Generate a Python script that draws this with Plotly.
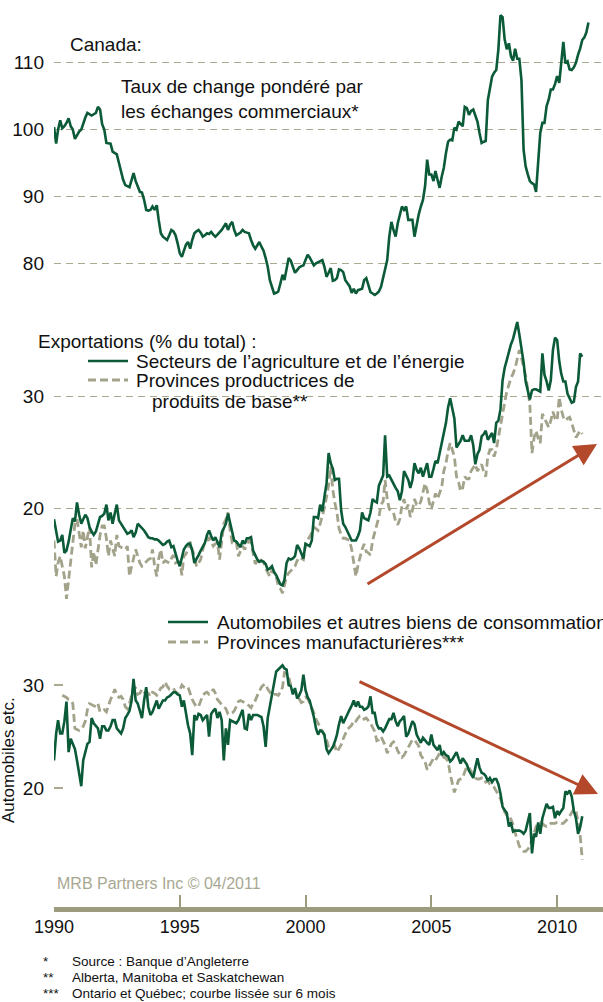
import plotly.graph_objects as go
import pandas as pd

W, H = 603, 1002
GREEN = "#0b5a38"
OLIVE = "#a3a38b"
GRID = "#aaa98f"
AXIS = "#9c9b7e"
RUST = "#b4482a"
TEXT = "#111111"
FONT = "Arial, 'Liberation Sans', sans-serif"

# ---- data (monthly, from Jan 1990) ----
taux_change = [
    100.4, 97.9, 100.0, 101.4, 100.2, 100.5, 101.0, 101.7, 100.5, 100.0, 98.6, 99.2,
    99.7, 100.0, 101.0, 101.8, 102.5, 102.3, 102.1, 102.3, 102.5, 103.4, 103.0, 100.8,
    100.0, 98.0, 98.0, 97.9, 96.7, 96.5, 96.3, 95.0, 93.5, 92.5, 91.7, 91.5,
    91.4, 92.5, 93.5, 92.3, 91.4, 90.7, 90.6, 89.5, 88.0, 87.9, 88.0, 88.5,
    88.0, 88.7, 86.5, 84.5, 84.0, 83.7, 83.5, 84.2, 85.0, 84.8, 84.2, 83.0,
    81.5, 81.0, 81.8, 82.8, 83.2, 82.2, 83.5, 84.5, 84.8, 85.0, 84.6, 84.0,
    84.2, 84.5, 84.4, 84.7, 84.3, 84.0, 84.3, 84.6, 85.0, 85.5, 86.0, 85.0,
    85.8, 86.2, 85.0, 84.2, 84.4, 84.6, 85.0, 84.7, 84.6, 84.5, 83.5, 82.7,
    82.2, 82.7, 83.2, 82.5, 81.9, 80.8, 79.5, 77.5, 76.5, 75.5, 75.6, 75.8,
    77.0, 78.3, 77.5, 79.5, 80.8, 80.4, 79.5, 78.6, 79.0, 79.4, 79.6, 79.7,
    80.5, 81.3, 80.9, 80.2, 79.7, 80.0, 80.2, 80.4, 80.5, 79.5, 78.0, 78.6,
    79.3, 77.4, 77.5, 77.8, 79.1, 79.0, 78.7, 77.5, 77.0, 76.6, 75.6, 76.2,
    75.5, 76.0, 76.1, 76.2, 77.5, 77.8, 76.8, 75.7, 75.5, 75.3, 75.5, 75.8,
    76.5, 78.0, 79.5, 80.5, 84.0, 86.2, 85.0, 84.0, 86.0, 87.5, 88.5, 88.0,
    88.5, 86.5, 86.5, 86.5, 84.0, 86.0, 87.3, 88.5, 89.5, 91.5, 95.5, 93.3,
    93.3, 92.3, 93.8, 92.5, 91.3, 93.0, 94.3, 96.5, 98.2, 98.5, 98.4, 100.3,
    100.0, 101.2, 100.8, 100.5, 103.4, 103.2, 102.2, 102.8, 103.0, 102.2, 101.2, 99.5,
    98.0, 98.2, 98.3, 104.4, 106.5, 107.9, 108.5, 108.9, 112.0, 117.1, 116.8, 113.5,
    112.0, 112.9, 111.0, 110.3, 112.1, 110.6, 110.6, 107.4, 97.0, 94.5, 93.3, 92.3,
    92.0, 91.8, 90.7, 95.5, 99.5, 101.0, 101.0, 103.5, 104.5, 106.0, 106.0, 106.8,
    108.0, 107.0, 110.0, 113.1, 109.9, 110.2, 109.0, 108.9, 109.3, 110.0, 111.2, 112.1,
    113.4, 113.8, 114.5, 116.0,
]

agri_energie = [
    19.0, 18.0, 17.0, 17.1, 17.6, 16.0, 16.2, 17.0, 18.3, 19.1, 18.8, 20.5,
    19.4, 18.6, 19.0, 19.4, 19.1, 18.3, 17.9, 17.6, 17.9, 18.5, 19.2, 19.3,
    19.5, 20.3, 18.9, 19.6, 18.6, 19.5, 20.3, 18.9, 18.6, 18.2, 17.9, 17.7,
    17.8, 18.0, 17.4, 17.8, 18.6, 18.4, 18.2, 18.0, 17.7, 17.4, 17.3, 17.3,
    17.2, 17.2, 17.1, 16.9, 16.7, 16.8, 17.0, 17.1, 16.5, 16.6, 15.8, 15.3,
    14.8, 15.5, 16.3, 16.6, 16.8, 16.8, 16.2, 15.1, 15.4, 15.8, 16.2, 16.5,
    16.9, 17.6, 18.0, 17.5, 17.1, 17.4, 16.9, 16.5, 17.8, 18.2, 18.6, 19.5,
    18.6, 17.6, 17.1, 17.0, 16.8, 16.5, 17.1, 16.8, 17.3, 17.3, 17.4, 16.2,
    15.8, 15.4, 15.2, 15.3, 15.2, 15.0, 14.5, 14.6, 14.8, 14.3, 14.0, 13.6,
    13.2, 13.1, 13.6, 15.1, 15.5, 15.4, 15.5, 15.7, 16.7, 16.4, 16.0, 15.5,
    16.8, 16.7, 16.6, 17.1, 19.2, 19.2, 19.1, 20.3, 19.7, 21.0, 22.2, 24.9,
    24.0, 23.5, 22.5, 22.6, 22.6, 19.8, 18.6, 18.3, 17.9, 17.5, 17.1, 17.1,
    17.1, 17.5, 18.0, 19.6, 19.1, 19.0, 18.9, 19.6, 20.8, 20.6, 20.5, 22.0,
    22.5, 22.9, 26.5, 22.8, 22.9, 22.5, 22.2, 21.8, 21.5, 20.7, 21.5, 23.3,
    22.9, 22.5, 21.8, 22.5, 24.0, 23.4, 23.1, 23.6, 22.8, 23.4, 24.0, 22.8,
    22.8, 23.5, 24.2, 24.0, 24.8, 25.8, 26.7, 27.6, 29.0, 29.8, 28.8, 28.0,
    25.4, 25.7, 26.0, 26.5, 26.0, 26.0, 26.0, 26.5, 25.6, 23.9, 24.8, 25.2,
    26.4, 26.6, 26.9, 26.1, 26.4, 26.7, 25.8, 27.6, 27.8, 28.8, 31.4, 32.5,
    33.2, 34.0, 34.6, 35.1, 35.8, 36.6, 35.5, 34.4, 33.0, 31.3, 30.5, 29.7,
    30.5, 30.6, 30.6, 30.5, 30.4, 33.8, 31.9, 31.3, 30.5, 31.4, 34.1, 35.2,
    35.0, 33.1, 32.0, 31.3, 31.3, 30.2, 29.8, 29.4, 29.5, 30.8, 31.3, 33.8,
    33.5,
]

prov_base = [
    17.1, 13.9, 15.1, 15.7, 14.8, 13.9, 11.9, 13.5, 15.6, 17.2, 18.6, 19.0,
    17.5, 16.5, 18.0, 16.4, 17.4, 18.3, 14.7, 16.1, 14.9, 16.5, 17.6, 18.4,
    18.4, 17.3, 15.7, 17.1, 16.4, 15.7, 17.6, 16.6, 16.5, 16.4, 16.3, 16.6,
    13.9, 14.8, 15.4, 16.3, 15.7, 15.1, 14.8, 15.0, 15.2, 15.4, 15.5, 16.3,
    14.8, 13.9, 15.5, 16.3, 15.1, 15.3, 15.2, 15.1, 15.5, 15.8, 15.1, 15.2,
    15.2, 14.0, 15.7, 15.9, 16.3, 17.0, 16.3, 15.7, 14.8, 15.1, 15.4, 16.3,
    16.9, 17.0, 17.4, 17.0, 16.6, 16.8, 16.9, 15.4, 16.8, 18.6, 19.0, 19.6,
    18.0, 16.9, 16.9, 17.0, 15.7, 16.2, 16.6, 16.3, 16.8, 17.1, 16.9, 16.0,
    15.0, 15.3, 15.5, 15.3, 15.2, 14.6, 14.2, 13.9, 14.5, 14.2, 13.9, 13.0,
    12.8, 12.4, 13.2, 13.9, 14.2, 14.4, 14.6, 14.8, 15.3, 15.6, 15.5, 15.4,
    16.8, 17.1, 17.5, 17.8, 18.3, 18.1, 18.0, 18.6, 19.3, 20.0, 21.0, 22.0,
    23.7, 21.6, 20.5, 19.6, 18.2, 17.6, 17.3, 17.3, 17.2, 17.1, 16.3, 15.0,
    13.9, 14.9, 15.7, 16.3, 16.8, 16.1, 16.0, 15.8, 17.1, 17.8, 18.6, 19.2,
    20.3, 20.6, 22.5, 20.8, 19.9, 19.7, 19.6, 18.8, 18.5, 19.0, 20.2, 20.8,
    19.9, 20.3, 19.2, 19.8, 20.8, 20.3, 20.2, 20.6, 21.5, 22.2, 21.6, 20.5,
    19.9, 20.8, 21.3, 20.8, 21.4, 21.9, 23.3, 24.0, 25.1, 25.8, 25.2, 24.6,
    22.8, 22.3, 21.5, 21.8, 22.8, 22.6, 22.6, 23.3, 23.6, 23.9, 23.3, 23.6,
    23.9, 23.2, 22.8, 24.6, 25.2, 25.2, 24.6, 25.2, 26.4, 27.6, 28.4, 29.4,
    30.4, 31.0, 31.6, 32.0, 32.5, 33.3, 34.1, 33.4, 32.7, 31.8, 30.6, 29.2,
    24.9, 26.3, 26.9, 26.2, 25.8, 28.4, 28.0, 27.6, 27.2, 27.8, 28.6, 28.0,
    27.8, 29.9, 28.8, 28.1, 27.8, 28.0, 28.1, 27.6, 27.0, 26.3, 26.6, 26.9,
    26.6,
]

auto_conso = [
    22.7, 25.3, 26.6, 25.3, 25.3, 26.5, 28.4, 23.5, 24.8, 24.3, 23.8, 22.7,
    21.5, 20.2, 22.7, 23.4, 24.3, 24.5, 26.8, 26.3, 26.0, 25.8, 24.8, 26.0,
    26.0, 25.6, 25.6, 26.0, 26.6, 26.6, 25.8, 25.5, 25.3, 25.8, 26.8, 27.1,
    27.5, 28.5, 30.6, 28.5, 28.2, 27.5, 26.8, 28.5, 29.8, 27.9, 27.1, 27.4,
    28.0, 28.5, 27.7, 28.2, 28.5, 28.5, 28.8, 28.9, 29.1, 29.3, 29.3, 29.1,
    29.0, 27.9, 28.5, 27.2, 26.1, 25.3, 23.2, 27.1, 26.6, 27.2, 27.1, 26.6,
    26.9, 27.1, 25.0, 27.2, 27.5, 27.7, 26.8, 27.4, 26.6, 22.7, 25.8, 24.2,
    26.6, 26.5, 26.4, 26.3, 26.6, 27.1, 27.6, 25.8, 25.7, 27.2, 26.6, 27.1,
    27.1, 27.1, 27.0, 26.9, 26.0, 24.0, 26.8, 28.0, 28.9, 30.2, 31.3, 31.5,
    31.7, 31.9, 31.6, 31.5, 30.0, 29.9, 29.1, 29.7, 28.7, 29.0, 29.5, 31.0,
    29.5, 28.8, 28.5, 27.7, 26.9, 25.8, 25.2, 25.6, 25.5, 25.2, 23.8, 23.4,
    23.7, 24.0, 24.5, 25.2, 26.2, 27.0, 26.3, 26.8, 27.3, 27.6, 28.0, 28.5,
    27.9, 28.4, 27.9, 27.9, 27.6, 27.7, 27.9, 28.9, 27.3, 27.3, 26.2, 25.8,
    25.8, 25.5, 25.8, 26.3, 26.7, 26.7, 27.3, 26.5, 26.0, 26.5, 26.7, 27.0,
    25.0, 25.3, 25.8, 26.5, 26.2, 25.2, 24.8, 24.4, 24.9, 24.6, 24.4, 24.2,
    25.2, 24.2, 23.9, 23.7, 24.2, 23.2, 23.5, 23.2, 23.1, 22.6, 22.8, 23.1,
    23.5, 22.9, 22.4, 22.9, 22.6, 22.3, 21.7, 21.3, 21.0, 22.0, 22.9, 22.0,
    21.5, 21.4, 21.2, 20.7, 21.0, 20.6, 20.9, 20.9, 20.4, 19.5, 18.2, 17.9,
    17.6, 16.3, 16.7, 15.8, 15.9, 15.9, 15.9, 15.8, 15.6, 15.9, 16.8, 17.6,
    13.7, 15.6, 15.3, 16.7, 15.6, 17.1, 17.8, 18.5, 18.1, 18.1, 18.2, 17.1,
    17.8, 17.5, 17.8, 18.1, 19.7, 19.5, 19.8, 19.2, 17.8, 17.1, 15.6, 16.2,
    17.3,
]

prov_manuf = [
    None, None, None, None, 29.0, 28.9, 28.8, 28.6, 28.5, 28.2, 25.8, 25.7,
    25.6, 25.7, 26.0, 26.5, 27.6, 28.2, 28.1, 28.0, 27.9, 28.2, 27.4, 27.5,
    27.6, 27.4, 28.0, 28.6, 29.0, 29.6, 29.0, 28.8, 28.9, 28.6, 27.9, 27.7,
    28.2, 29.2, 29.8, 29.7, 29.1, 29.2, 29.6, 29.3, 29.2, 29.2, 28.9, 29.3,
    29.2, 29.0, 29.4, 29.7, 29.8, 30.3, 29.9, 29.6, 29.6, 29.7, 29.3, 29.2,
    29.5, 30.0, 29.8, 29.7, 29.8, 29.1, 28.6, 28.2, 27.9, 27.9, 28.4, 29.0,
    29.2, 29.3, 29.1, 29.2, 29.6, 29.2, 28.6, 28.4, 28.1, 27.9, 27.7, 27.2,
    27.2, 27.3, 27.5, 27.9, 28.4, 28.5, 28.4, 28.3, 28.2, 28.0, 27.8, 28.2,
    28.5, 29.0, 29.4, 29.8, 30.0, 30.1, 29.6, 29.3, 29.0, 29.1, 29.1, 29.0,
    29.3, 29.8, 31.2, 31.1, 30.8, 30.0, 29.4, 29.4, 29.0, 28.6, 28.3, 28.4,
    28.8, 28.7, 28.3, 27.8, 27.3, 26.7, 26.3, 25.8, 25.4, 25.1, 24.7, 24.0,
    23.8, 24.0, 24.1, 23.5, 23.8, 24.2, 24.8, 25.3, 25.7, 25.9, 26.1, 26.6,
    26.5, 26.8, 27.0, 27.0, 26.7, 26.8, 26.6, 26.3, 25.9, 25.5, 24.6, 24.7,
    25.0, 24.6, 24.2, 23.4, 23.8, 24.3, 24.5, 24.2, 23.6, 23.3, 23.0, 23.2,
    23.6, 23.9, 24.4, 24.7, 24.7, 24.4, 24.1, 23.2, 22.9, 22.6, 21.8, 22.2,
    22.5, 22.9, 22.7, 23.0, 23.4, 23.3, 23.0, 22.9, 22.6, 21.4, 20.4, 19.6,
    20.2, 20.8, 20.9, 21.0, 21.6, 22.1, 22.0, 21.7, 21.3, 21.0, 20.9, 20.9,
    21.0, 21.0, 20.6, 20.7, 20.4, 20.3, 20.1, 19.7, 19.4, 19.0, 18.4, 17.7,
    17.4, 17.3, 17.0, 16.5, 15.7, 14.9, 14.4, 14.1, 13.9, 13.9, 14.1, 14.4,
    15.0, 15.6, 16.3, 16.6, 16.7, 16.6, 16.4, 16.3, 16.4, 16.6, 16.6, 16.6,
    16.7, 16.7, 16.6, 16.6, 16.8, 17.0, 17.3, 17.6, 18.0, 17.9, 16.8, 15.5,
    13.1,
]

year_ticks = ["1990-01-01", "1995-01-01", "2000-01-01", "2005-01-01", "2010-01-01"]
year_labels = ["1990", "1995", "2000", "2005", "2010"]


def months(series):
    return pd.date_range("1990-01-01", periods=len(series), freq="MS")


def px(x):
    return x / W


def py(y):
    return 1 - y / H


fig = go.Figure()

fig.add_trace(go.Scatter(x=months(taux_change), y=taux_change, mode="lines",
                         line=dict(color=GREEN, width=2.6), yaxis="y"))
fig.add_trace(go.Scatter(x=months(prov_base), y=prov_base, mode="lines",
                         line=dict(color=OLIVE, width=2.8, dash="8px,4px"), yaxis="y2"))
fig.add_trace(go.Scatter(x=months(agri_energie), y=agri_energie, mode="lines",
                         line=dict(color=GREEN, width=2.6), yaxis="y2"))
fig.add_trace(go.Scatter(x=months(prov_manuf), y=prov_manuf, mode="lines",
                         line=dict(color=OLIVE, width=2.8, dash="8px,4px"), yaxis="y3"))
fig.add_trace(go.Scatter(x=months(auto_conso), y=auto_conso, mode="lines",
                         line=dict(color=GREEN, width=2.6), yaxis="y3"))

tickfont = dict(family=FONT, size=19, color=TEXT)
ycommon = dict(anchor="x", showline=False, zeroline=False, automargin=False,
               tickfont=tickfont, ticklabelstandoff=9, fixedrange=True)

fig.update_layout(
    width=W, height=H, autosize=False,
    margin=dict(l=0, r=0, t=0, b=0),
    paper_bgcolor="white", plot_bgcolor="white",
    showlegend=False,
    font=dict(family=FONT, color=TEXT),
    xaxis=dict(type="date", domain=[px(54), 1],
               range=["1990-01-01", "2011-10-29"],
               anchor="free", position=py(908.5),
               showgrid=False, zeroline=False,
               showline=True, linewidth=5, linecolor=AXIS,
               ticks="inside", ticklen=12, tickwidth=1.5, tickcolor=AXIS,
               tickvals=year_ticks, ticktext=year_labels,
               tickfont=dict(family=FONT, size=18, color=TEXT),
               automargin=False, fixedrange=True),
    yaxis=dict(domain=[py(300), py(10)], range=[74.53, 117.88],
               tickvals=[80, 90, 100, 110], showgrid=True, gridcolor=GRID,
               gridwidth=1.3, griddash="7px,5px", ticks="", **ycommon),
    yaxis2=dict(domain=[py(600), py(315)], range=[11.79, 37.23],
                tickvals=[20, 30], showgrid=True, gridcolor=GRID,
                gridwidth=1.3, griddash="7px,5px", ticks="", **ycommon),
    yaxis3=dict(domain=[py(880), py(650)], range=[11.12, 33.39],
                tickvals=[20, 30], showgrid=False, ticks="inside",
                ticklen=9, tickwidth=1.5, tickcolor=GRID, **ycommon),
)


def label(text, x, y, size=19, color=TEXT, anchor="left", angle=0):
    fig.add_annotation(text=text, x=px(x), y=py(y), xref="paper", yref="paper",
                       xanchor=anchor, yanchor="middle", showarrow=False,
                       textangle=angle, font=dict(family=FONT, size=size, color=color))


label("Canada:", 68, 45)
label("Taux de change pondéré par", 119, 87)
label("les échanges commerciaux*", 119, 112)

label("Exportations (% du total) :", 36, 341)
label("Secteurs de l’agriculture et de l’énergie", 134, 361)
label("Provinces productrices de", 134, 380)
label("produits de base**", 150, 402)

label("Automobiles et autres biens de consommation", 215, 622)
label("Provinces manufacturières***", 215, 642)
label("Automobiles etc.", 8, 760, size=17, anchor="center", angle=-90)

label("MRB Partners Inc © 04/2011", 55, 883, size=16, color="#a8a892")

notes = [("*", "Source : Banque d’Angleterre"),
         ("**", "Alberta, Manitoba et Saskatchewan"),
         ("***", "Ontario et Québec; courbe lissée sur 6 mois")]
for (mark, note), y in zip(notes, [961, 977, 993]):
    label(mark, 41, y, size=13.5)
    label(note, 70, y, size=13.5)

# legend samples
for x0, x1, y, color, dash in [(88, 128, 361, GREEN, "solid"), (88, 128, 380, OLIVE, "dash"),
                               (168, 208, 622, GREEN, "solid"), (168, 208, 642, OLIVE, "dash")]:
    fig.add_shape(type="line", xref="paper", yref="paper",
                  x0=px(x0), x1=px(x1), y0=py(y), y1=py(y),
                  line=dict(color=color, width=2.6 if dash == "solid" else 2.8,
                            dash="solid" if dash == "solid" else "8px,4px"))

# trend arrows
for (hx, hy), (tx, ty) in [((597, 444), (366, 585)), ((598, 794), (358, 681))]:
    fig.add_annotation(x=px(hx), y=py(hy), xref="paper", yref="paper",
                       ax=tx - hx, ay=ty - hy, axref="pixel", ayref="pixel",
                       text="", showarrow=True, arrowhead=2, arrowsize=1.5,
                       arrowwidth=3, arrowcolor=RUST)

# the page's default 8px body margin would push the figure off its frame
fig.write_html("out.html", config={"displayModeBar": False},
               post_script="document.body.style.margin='0';")
